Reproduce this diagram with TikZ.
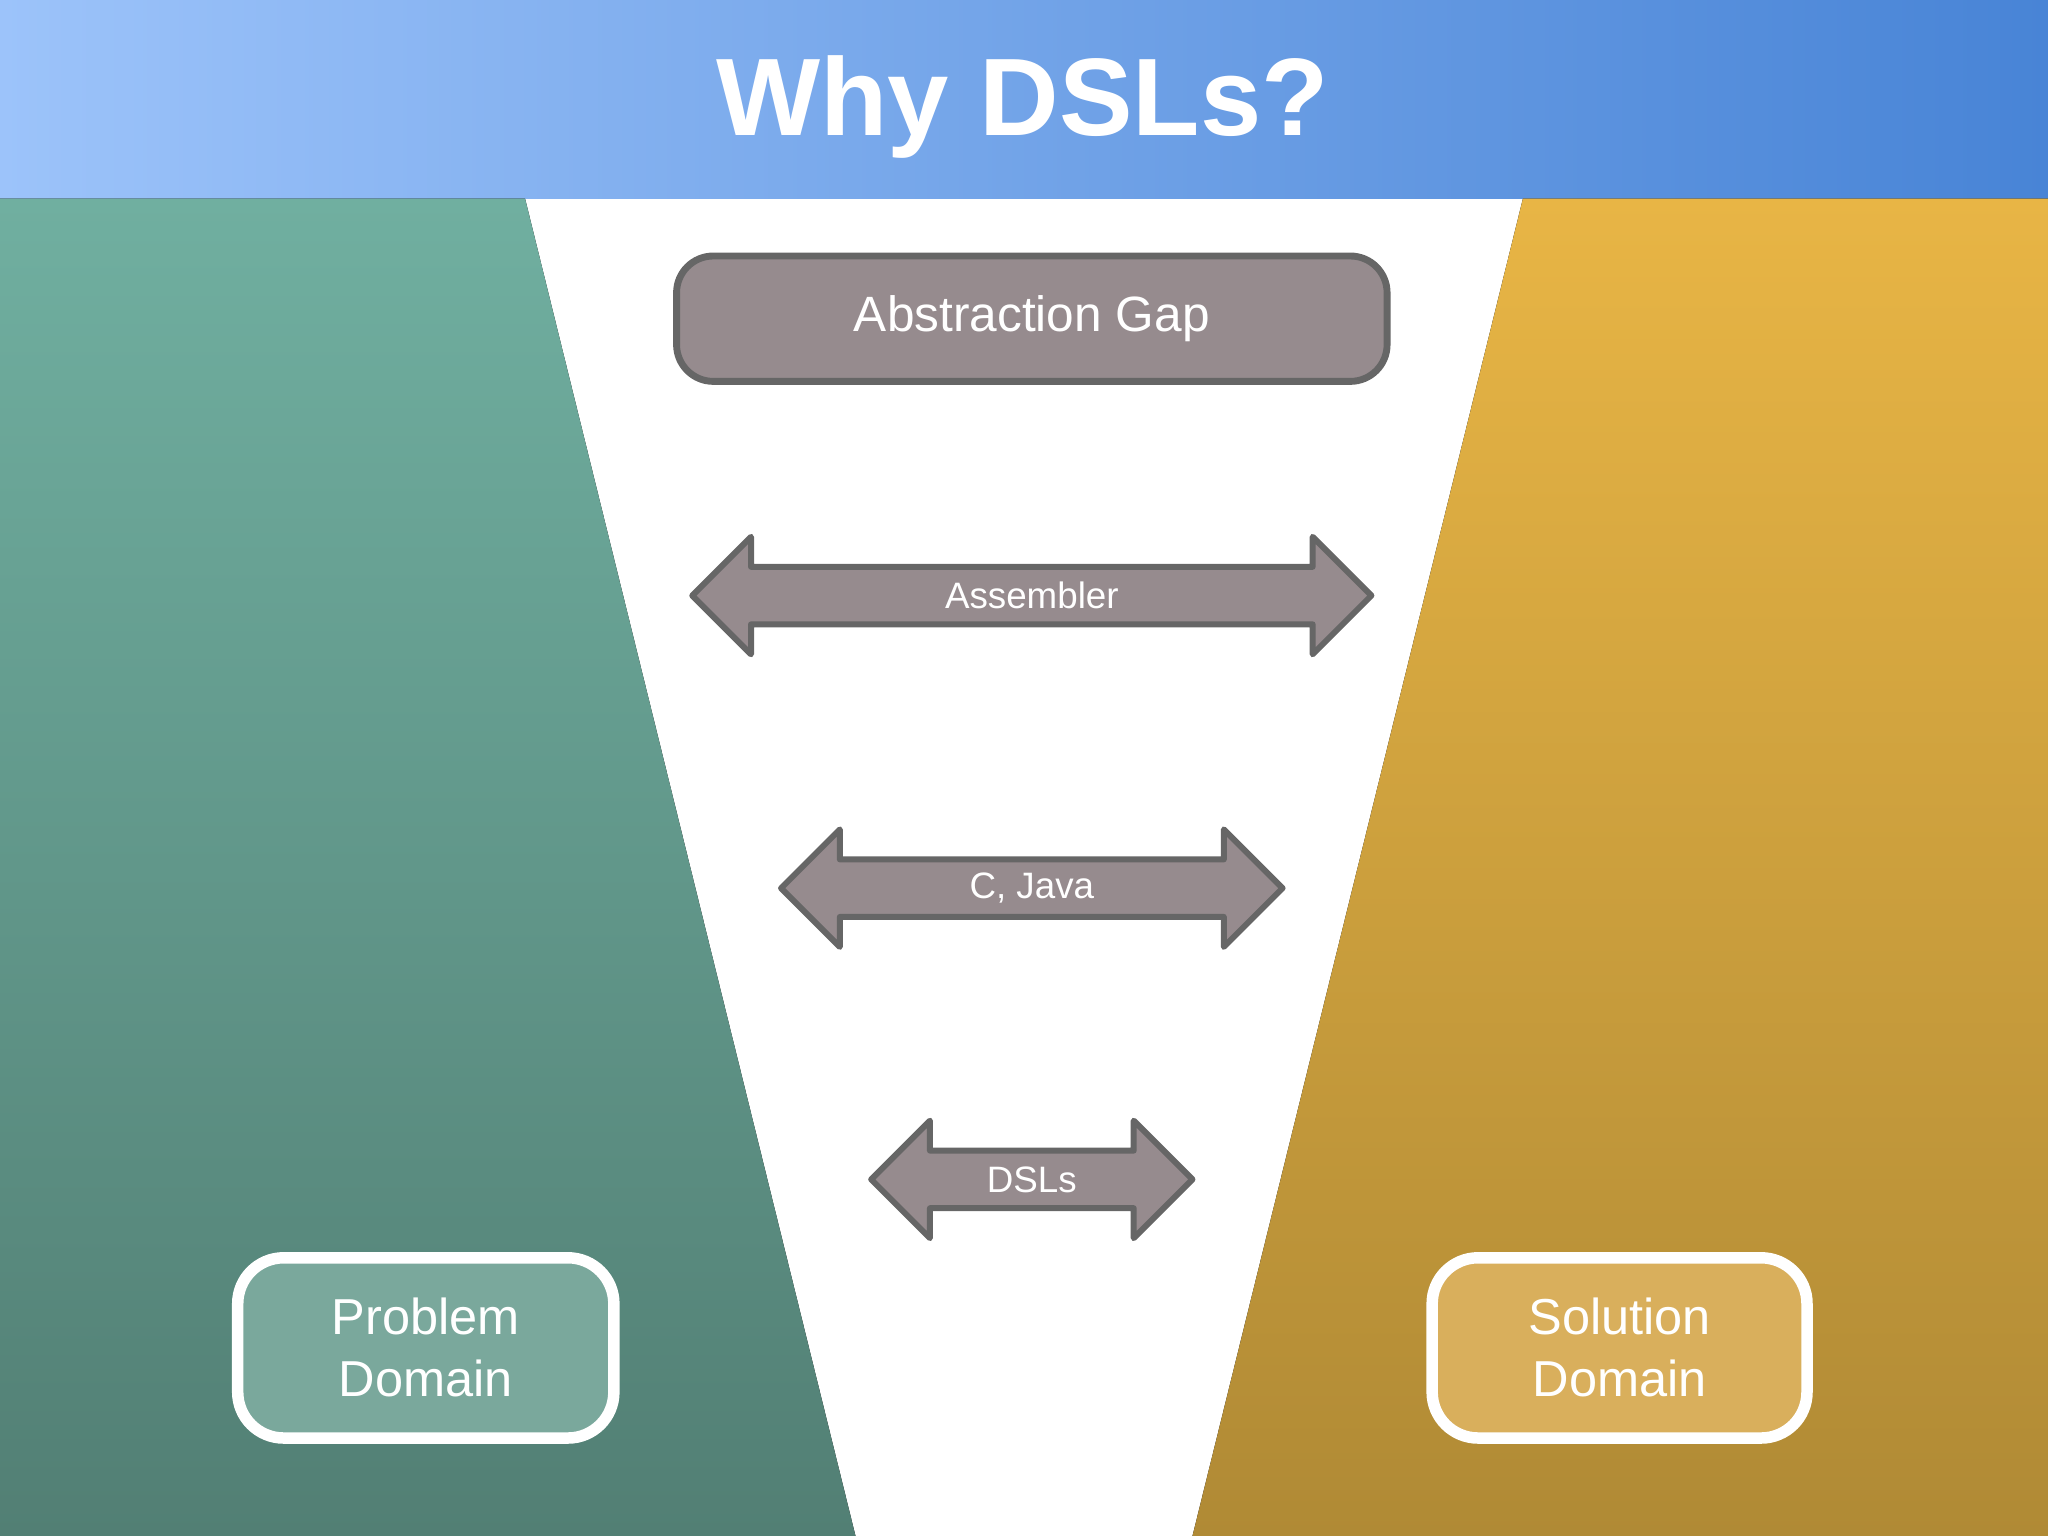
\documentclass[tikz,border=0pt]{standalone}
\usepackage{fontspec}
\setmainfont{Liberation Sans}
\begin{document}
\begin{tikzpicture}[x=0.01cm,y=-0.01cm,
  gapbox/.style={draw=black!60,line width=1.5pt,fill=gbox,rounded corners=8pt,text=white},
  dombox/.style={draw=white,line width=2.5pt,rounded corners=10pt,text=white,align=center,font=\fontsize{11}{13.5}\selectfont},
  arr/.style={draw=black!60,line width=1.3pt,fill=gbox,line join=round},
  lbl/.style={text=white,font=\fontsize{8}{10}\selectfont}]
\definecolor{gbox}{HTML}{968B8E}
\useasboundingbox (0,0) rectangle (1568,1176);
\fill[left color={rgb,255:red,156;green,195;blue,250},right color={rgb,255:red,72;green,132;blue,214}] (0,0) rectangle (1568,152);
\node[text=white,font=\bfseries\fontsize{24}{28}\selectfont] (title) at (783,82) {Why DSLs?};
\fill[top color={rgb,255:red,112;green,175;blue,160},bottom color={rgb,255:red,82;green,127;blue,116}] (0,152) -- (402,152) -- (655,1176) -- (0,1176) -- cycle;
\fill[top color={rgb,255:red,232;green,181;blue,69},bottom color={rgb,255:red,176;green,138;blue,53}] (1166,152) -- (1568,152) -- (1568,1176) -- (913,1176) -- cycle;
\node[gapbox,minimum width=544*0.01cm,minimum height=96*0.01cm,font=\fontsize{10.8}{13}\selectfont] (gap) at (790,244) {Abstraction Gap};
\foreach \l/\r/\y/\t/\n in {530/1050/456/Assembler/asm,598/982/680/{C, Java}/cj,667/913/903/DSLs/dsl}{
  \draw[arr] (\l,\y) -- (\l+45,\y-45) -- (\l+45,\y-22) -- (\r-45,\y-22) -- (\r-45,\y-45) -- (\r,\y) -- (\r-45,\y+45) -- (\r-45,\y+22) -- (\l+45,\y+22) -- (\l+45,\y+45) -- cycle;
  \node[lbl] (\n) at ({(\l+\r)/2},\y) {\t};
}
\node[dombox,fill={rgb,255:red,122;green,168;blue,156},minimum width=288*0.01cm,minimum height=138*0.01cm] (prob) at (326,1032) {Problem\\Domain};
\node[dombox,fill={rgb,255:red,217;green,175;blue,92},minimum width=287*0.01cm,minimum height=138*0.01cm] (sol) at (1240,1032) {Solution\\Domain};
\end{tikzpicture}
\end{document}
